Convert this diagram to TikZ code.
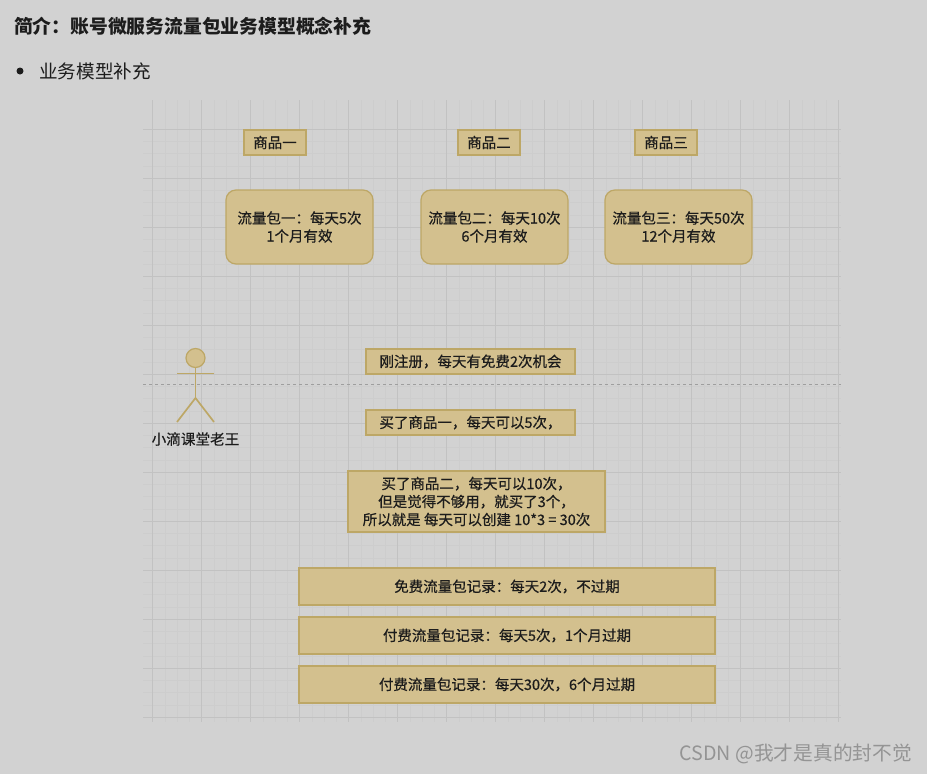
\documentclass[tikz,border=0pt]{standalone}
\usepackage{fontspec}
\setmainfont{Noto Sans CJK SC}
\newfontfamily\mediumcjk[FakeBold=0.5]{Noto Sans CJK SC}
\usepackage{xcolor}
\usetikzlibrary{positioning,calc}
\definecolor{PageGray}{HTML}{d2d2d2}
\definecolor{GridMinor}{HTML}{cdcdcd}
\definecolor{GridMajor}{HTML}{c2c2c2}
\definecolor{BoxFill}{HTML}{d3c08e}
\definecolor{BoxLine}{HTML}{bda766}
\definecolor{InkDark}{HTML}{1c1c1c}
\tikzset{
  itembox/.style={draw=BoxLine,fill=BoxFill,line width=1.2pt,text=InkDark,font=\fontsize{14.5}{18}\selectfont\mediumcjk,align=center,inner sep=0pt},
  packbox/.style={itembox,rounded corners=10pt,minimum width=147pt,minimum height=74pt},
  goodsbox/.style={itembox,minimum width=62pt,minimum height=25pt},
  notebox/.style={itembox,minimum width=209pt,minimum height=25pt},
  recordbox/.style={itembox,minimum width=416pt,minimum height=37pt},
  stickline/.style={draw=BoxLine,line width=1.7pt}
}
\begin{document}
\begin{tikzpicture}[x=1pt,y=-1pt]
  \useasboundingbox (0,0) rectangle (927,774);
  \fill[PageGray] (0,0) rectangle (927,774);
  % grid
  \foreach \gx in {0,...,56} {
    \draw[GridMinor,line width=0.5pt] ({152.5+12.25*\gx},100) -- ({152.5+12.25*\gx},722);
  }
  \foreach \gy in {0,...,48} {
    \draw[GridMinor,line width=0.5pt] (143,{129+12.25*\gy}) -- (841,{129+12.25*\gy});
  }
  \foreach \gx in {0,...,14} {
    \draw[GridMajor,line width=0.8pt] ({152.5+49*\gx},100) -- ({152.5+49*\gx},722);
  }
  \foreach \gy in {0,...,12} {
    \draw[GridMajor,line width=0.8pt] (143,{129+49*\gy}) -- (841,{129+49*\gy});
  }
  % heading
  \node[anchor=west,inner sep=0pt,text=InkDark,font=\fontsize{18.8}{22}\selectfont\bfseries] (title) at (14,26) {简介：账号微服务流量包业务模型概念补充};
  \node[circle,fill=InkDark,inner sep=0pt,minimum size=7pt] (dot) at (20,71) {};
  \node[anchor=west,inner sep=0pt,text=InkDark,font=\fontsize{18.6}{22}\selectfont] (subtitle) at (39,71) {业务模型补充};
  % goods
  \node[goodsbox] (goodsa) at (275,142.5) {商品一};
  \node[goodsbox] (goodsb) at (489,142.5) {商品二};
  \node[goodsbox] (goodsc) at (666,142.5) {商品三};
  % packs
  \node[packbox] (packa) at (299.5,227) {流量包一：每天5次\\1个月有效};
  \node[packbox] (packb) at (494.5,227) {流量包二：每天10次\\6个月有效};
  \node[packbox] (packc) at (678.5,227) {流量包三：每天50次\\12个月有效};
  % user
  \node[circle,draw=BoxLine,fill=BoxFill,line width=1.2pt,minimum size=19pt,inner sep=0pt] (head) at (195.5,358) {};
  \coordinate (armleft) at (177,373.5);
  \coordinate (armright) at (214,373.5);
  \coordinate (hip) at (195.5,398);
  \coordinate (footleft) at (177,422);
  \coordinate (footright) at (214,422);
  \draw[stickline] (head) -- (hip);
  \draw[stickline] (armleft) -- (armright);
  \draw[stickline] (footleft) -- (hip) -- (footright);
  \node[text=InkDark,font=\fontsize{14.6}{18}\selectfont\mediumcjk,inner sep=0pt] (username) at (195.5,439) {小滴课堂老王};
  % divider
  \coordinate (divleft) at (143,384.5);
  \coordinate (divright) at (841,384.5);
  \draw[black!38,dashed,line width=0.7pt] (divleft) -- (divright);
  % notes
  \node[notebox] (notea) at (470.5,361.5) {刚注册，每天有免费2次机会};
  \node[notebox] (noteb) at (470.5,422.5) {买了商品一，每天可以5次，};
  \node[itembox,minimum width=257pt,minimum height=61pt] (notec) at (476.5,501.5) {买了商品二，每天可以10次，\\但是觉得不够用，就买了3个，\\所以就是 每天可以创建 10*3 = 30次};
  % records
  \node[recordbox] (recorda) at (507,586.5) {免费流量包记录：每天2次，不过期};
  \node[recordbox] (recordb) at (507,635.5) {付费流量包记录：每天5次，1个月过期};
  \node[recordbox] (recordc) at (507,684.5) {付费流量包记录：每天30次，6个月过期};
  % watermark
  \node[anchor=east,inner sep=0pt,text=black!42,font=\fontsize{19.7}{22}\selectfont] (mark) at (912,754) {CSDN @我才是真的封不觉};
\end{tikzpicture}
\end{document}
